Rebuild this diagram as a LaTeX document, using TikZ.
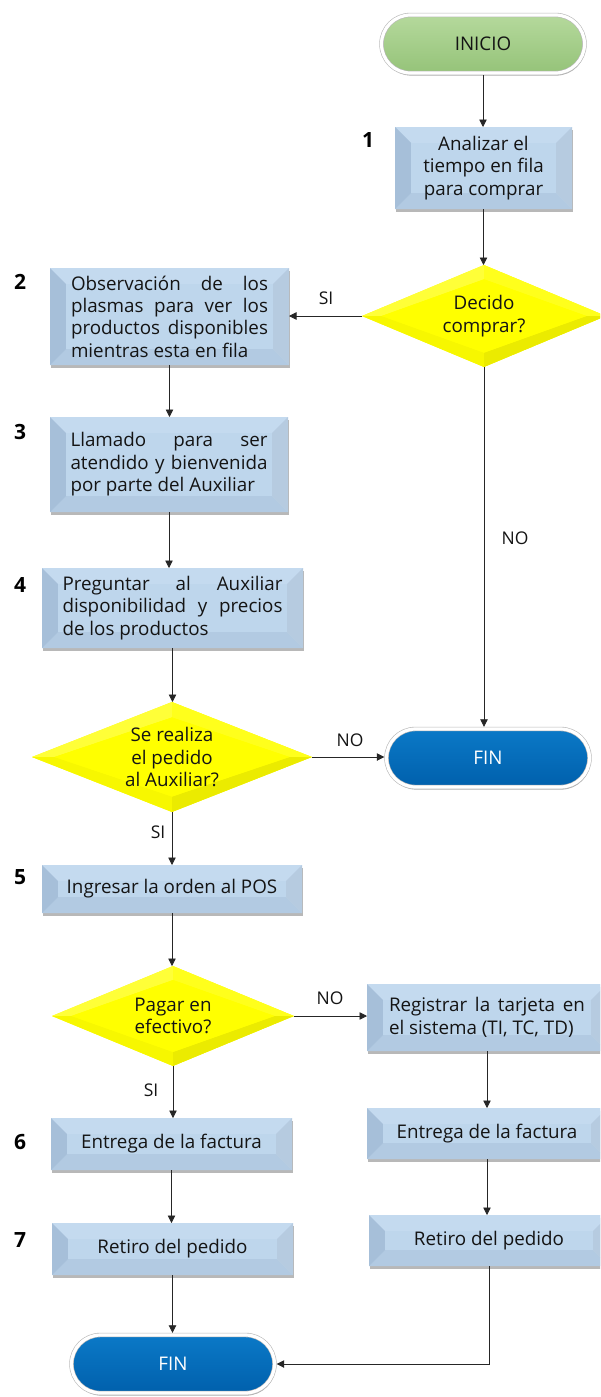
\documentclass[tikz,border=0pt]{standalone}
\usepackage{fontspec}
\setmainfont{Open Sans}
\usetikzlibrary{shapes.geometric,arrows.meta,shadows,calc}

\definecolor{boxMid}{HTML}{BED6EC}
\definecolor{boxTop}{HTML}{C4DAEF}
\definecolor{boxLeft}{HTML}{A6BFD9}
\definecolor{boxRight}{HTML}{B6CBE0}
\definecolor{boxBot}{HTML}{B2CAE2}
\definecolor{startTop}{HTML}{B5D99C}
\definecolor{startBot}{HTML}{95C379}
\definecolor{endTop}{HTML}{0B79C7}
\definecolor{endBot}{HTML}{0060AC}
\definecolor{decFill}{HTML}{FFFF00}
\definecolor{decTL}{HTML}{FFFF38}
\definecolor{decTR}{HTML}{FFFF1C}
\definecolor{decBL}{HTML}{F7F700}
\definecolor{decBR}{HTML}{EBEB00}

% a line of text stretched to a given width (justified line)
\newcommand\jline[2]{\makebox[#1][s]{#2}}
\newcommand\bevw{16pt}

\tikzset{
  x=1pt, y=-1pt,
  every node/.style={font=\fontsize{18.8}{22.4}\selectfont, text=black!92},
  stepbox/.style={rectangle, inner sep=0pt, outer sep=0pt, fill=boxMid, align=center,
    drop shadow={shadow xshift=1.2pt, shadow yshift=-2.6pt, opacity=.28, fill=black},
    path picture={
      \path (path picture bounding box.north west) coordinate (bNW)
            (path picture bounding box.north east) coordinate (bNE)
            (path picture bounding box.south west) coordinate (bSW)
            (path picture bounding box.south east) coordinate (bSE);
      \path (bNW) ++(\bevw,-\bevw) coordinate (iNW)
            (bNE) ++(-\bevw,-\bevw) coordinate (iNE)
            (bSW) ++(\bevw,\bevw) coordinate (iSW)
            (bSE) ++(-\bevw,\bevw) coordinate (iSE);
      \fill[boxTop] (bNW) -- (bNE) -- (iNE) -- (iNW) -- cycle;
      \fill[boxBot] (bSW) -- (bSE) -- (iSE) -- (iSW) -- cycle;
      \fill[boxLeft] (bNW) -- (iNW) -- (iSW) -- (bSW) -- cycle;
      \fill[boxRight] (bNE) -- (iNE) -- (iSE) -- (bSE) -- cycle;
      \fill[boxMid] (iNW) rectangle (iSE);
    }},
  pill/.style={rectangle, rounded corners=29pt, minimum width=203pt, minimum height=58pt,
    draw=black!28, double=white, line width=0.6pt, double distance=3.2pt,
    inner sep=0pt, outer sep=2.2pt,
    drop shadow={shadow xshift=0.8pt, shadow yshift=-2.6pt, opacity=.3, fill=black}},
  startpill/.style={pill, top color=startTop, bottom color=startBot},
  endpill/.style={pill, top color=endTop, bottom color=endBot, text=white},
  decision/.style={diamond, inner sep=0pt, outer sep=0pt, fill=decFill, align=center,
    path picture={
      \path (path picture bounding box.center) coordinate (dC)
            (path picture bounding box.west) coordinate (dL)
            (path picture bounding box.east) coordinate (dR)
            (path picture bounding box.north) coordinate (dT)
            (path picture bounding box.south) coordinate (dB);
      \path ($(dC)!0.84!(dL)$) coordinate (eL)
            ($(dC)!0.84!(dR)$) coordinate (eR)
            ($(dC)!0.72!(dT)$) coordinate (eT)
            ($(dC)!0.72!(dB)$) coordinate (eB);
      \fill[decTL] (dL) -- (dT) -- (eT) -- (eL) -- cycle;
      \fill[decTR] (dT) -- (dR) -- (eR) -- (eT) -- cycle;
      \fill[decBL] (dL) -- (dB) -- (eB) -- (eL) -- cycle;
      \fill[decBR] (dB) -- (dR) -- (eR) -- (eB) -- cycle;
      \fill[decFill] (eL) -- (eT) -- (eR) -- (eB) -- cycle;
    }},
  numlbl/.style={font=\fontsize{21}{21}\selectfont\bfseries, text=black},
  brlbl/.style={font=\fontsize{17.5}{19}\selectfont, text=black!92},
  arr/.style={draw=black!85, line width=0.8pt, -{Triangle[length=7.5pt,width=7.5pt]}},
}

\begin{document}
\begin{tikzpicture}
\useasboundingbox (0,0) rectangle (600,1397);
\fill[white] (0,0) rectangle (600,1397);
\clip (0,0) rectangle (600,1397);

% terminals
\node[startpill] (inicio) at (483,44) {INICIO};
\node[endpill] (fin1) at (488,758) {FIN};
\node[endpill] (fin2) at (173,1364) {FIN};

% process steps
\node[stepbox, minimum width=177pt, minimum height=82pt] (s1) at (483.5,168)
  {Analizar el\\tiempo en fila\\para comprar};
\node[stepbox, minimum width=239pt, minimum height=97pt, align=left] (s2) at (169.5,316.5)
  {\jline{197pt}{Observación de los}\\\jline{197pt}{plasmas para ver los}\\\jline{197pt}{productos disponibles}\\mientras esta en fila};
\node[stepbox, minimum width=238pt, minimum height=95pt, align=left] (s3) at (169,464.5)
  {\jline{197pt}{Llamado para ser}\\\jline{197pt}{atendido y bienvenida}\\por parte del Auxiliar};
\node[stepbox, minimum width=261pt, minimum height=80pt, align=left] (s4) at (172.5,608)
  {\jline{220pt}{Preguntar al Auxiliar}\\\jline{220pt}{disponibilidad y precios}\\de los productos};
\node[stepbox, minimum width=260pt, minimum height=48pt] (s5) at (172,889)
  {Ingresar la orden al POS};
\node[stepbox, minimum width=241pt, minimum height=52pt] (s6) at (171.5,1144)
  {Entrega de la factura};
\node[stepbox, minimum width=241pt, minimum height=52pt] (s7) at (172.5,1249)
  {Retiro del pedido};
\node[stepbox, minimum width=240pt, minimum height=67pt, align=left] (r1) at (487,1017.5)
  {\jline{196pt}{Registrar la tarjeta en}\\el sistema (TI, TC, TD)};
\node[stepbox, minimum width=240pt, minimum height=51pt] (r2) at (487,1133.5)
  {Entrega de la factura};
\node[stepbox, minimum width=240pt, minimum height=51pt] (r3) at (489,1240.5)
  {Retiro del pedido};

% decisions
\node[decision, minimum width=244pt, minimum height=102pt, aspect=2.39] (d1) at (484,316)
  {Decido\\comprar?};
\node[decision, minimum width=280pt, minimum height=110pt, aspect=2.545] (d2) at (172,757)
  {Se realiza\\el pedido\\al Auxiliar?};
\node[decision, minimum width=242pt, minimum height=100pt, aspect=2.42] (d3) at (173,1016)
  {Pagar en\\efectivo?};

% step numbers
\node[numlbl] (n1) at (368,140) {1};
\node[numlbl] (n2) at (20,282) {2};
\node[numlbl] (n3) at (20,432) {3};
\node[numlbl] (n4) at (20,585) {4};
\node[numlbl] (n5) at (20,877) {5};
\node[numlbl] (n6) at (20,1142) {6};
\node[numlbl] (n7) at (20,1240) {7};

% branch labels
\node[brlbl] (l1) at (326,298) {SI};
\node[brlbl] (l2) at (515,538) {NO};
\node[brlbl] (l3) at (350,740) {NO};
\node[brlbl] (l4) at (158,832) {SI};
\node[brlbl] (l5) at (330,998) {NO};
\node[brlbl] (l6) at (151,1090) {SI};

% connectors
\draw[arr] (inicio.south) -- (inicio.south |- s1.north);
\draw[arr] (s1.south) -- (s1.south |- d1.north);
\draw[arr] (d1.west) -- (d1.west -| s2.east);
\draw[arr] (d1.south) -- (d1.south |- fin1.north);
\draw[arr] (s2.south) -- (s2.south |- s3.north);
\draw[arr] (s3.south) -- (s3.south |- s4.north);
\draw[arr] (s4.south) -- (s4.south |- d2.north);
\draw[arr] (d2.east) -- (d2.east -| fin1.west);
\draw[arr] (d2.south) -- (d2.south |- s5.north);
\draw[arr] (s5.south) -- (s5.south |- d3.north);
\draw[arr] (d3.east) -- (d3.east -| r1.west);
\draw[arr] (d3.south) -- (d3.south |- s6.north);
\draw[arr] (s6.south) -- (s6.south |- s7.north);
\draw[arr] (s7.south) -- (s7.south |- fin2.north);
\draw[arr] (r1.south) -- (r1.south |- r2.north);
\draw[arr] (r2.south) -- (r2.south |- r3.north);
\draw[arr] (r3.south) |- (fin2.east);
\end{tikzpicture}
\end{document}
